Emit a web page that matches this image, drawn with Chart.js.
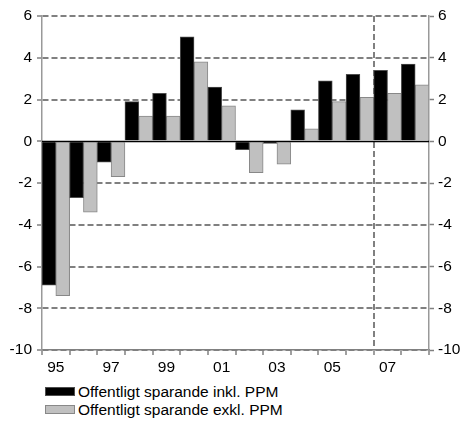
<!DOCTYPE html>
<html>
<head>
<meta charset="utf-8">
<script src="https://cdn.jsdelivr.net/npm/chart.js@4/dist/chart.umd.min.js"></script>
<style>
    body { margin: 0; background: #fff; }
    #wrap { position: relative; width: 465px; height: 421px; }
    #legend { position: absolute; left: 45px; top: 383px; font-family: "Liberation Sans", Arial, sans-serif; font-size: 15.5px; color: #000; }
    .item { height: 18px; line-height: 18px; white-space: nowrap; }
    .box { display: inline-block; width: 28px; height: 7px; margin-right: 3px; vertical-align: 1px; }
</style>
</head>
<body>
<div id="wrap">
    <canvas id="chartBar" width="465" height="378"></canvas>
    <div id="legend"></div>
</div>
<script>
var years = ['95', '96', '97', '98', '99', '00', '01', '02', '03', '04', '05', '06', '07', '08'];
var inklPPM = [-6.9, -2.7, -1.0, 1.9, 2.3, 5.0, 2.6, -0.4, -0.1, 1.5, 2.9, 3.2, 3.4, 3.7];
var exklPPM = [-7.4, -3.4, -1.7, 1.2, 1.2, 3.8, 1.7, -1.5, -1.1, 0.6, 1.9, 2.1, 2.3, 2.7];
var serieNames = ['Offentligt sparande inkl. PPM', 'Offentligt sparande exkl. PPM'];
var yMin = -10, yMax = 6, yStep = 2;
var prognosIndex = 12;  // dashed line before 2007

var fontDef = { family: '"Liberation Sans", Arial, sans-serif', size: 15.5 };
var gray = '#808080';

// solid zero line drawn on top of the bars
var zeroLine = {
    id: 'zeroLine',
    afterDatasetsDraw: function(chart) {
        var ctx = chart.ctx, area = chart.chartArea;
        var y = Math.round(chart.scales.y.getPixelForValue(0)) + 0.5;
        ctx.save();
        ctx.strokeStyle = '#000';
        ctx.lineWidth = 1.5;
        ctx.beginPath();
        ctx.moveTo(area.left, y);
        ctx.lineTo(area.right, y);
        ctx.stroke();
        ctx.restore();
    }
};

var barData = {
    labels: years,
    datasets: [
        {
            label: serieNames[0],
            data: inklPPM,
            backgroundColor: '#000000',
            borderColor: '#4d4d4d',
            borderWidth: 1
        },
        {
            label: serieNames[1],
            data: exklPPM,
            backgroundColor: '#c0c0c0',
            borderColor: '#888888',
            borderWidth: 1
        }
    ]
};

var chart = new Chart(document.getElementById('chartBar'), {
    type: 'bar',
    data: barData,
    plugins: [zeroLine],
    options: {
        responsive: false,
        devicePixelRatio: 1,
        animation: false,
        categoryPercentage: 1.0,
        barPercentage: 1.0,
        layout: { padding: { top: 16, left: 0, right: 0, bottom: 0 } },
        plugins: { legend: { display: false }, tooltip: { enabled: false } },
        scales: {
            x: {
                offset: true,
                grid: {
                    offset: true,
                    drawOnChartArea: true,
                    color: function(ctx) { return ctx.index === prognosIndex ? gray : 'rgba(0,0,0,0)'; },
                    lineWidth: 2,
                    tickColor: gray,
                    tickLength: 5,
                    tickWidth: 1.5
                },
                border: { color: gray, width: 1.5, dash: [6, 3] },
                ticks: {
                    autoSkip: false,
                    maxRotation: 0,
                    padding: 3,
                    color: '#000',
                    font: fontDef,
                    callback: function(v, i) { return i % 2 === 0 ? years[i] : ''; }
                },
                afterFit: function(scale) { scale.height = 28; }
            },
            y: {
                position: 'left',
                min: yMin,
                max: yMax,
                grid: {
                    color: function(ctx) { return ctx.tick.value === 0 ? 'rgba(0,0,0,0)' : gray; },
                    lineWidth: 2,
                    tickColor: gray,
                    tickLength: 5,
                    tickWidth: 1.5
                },
                border: { color: '#999', width: 1.5, dash: [6, 3] },
                ticks: { stepSize: yStep, padding: 5, color: '#000', font: fontDef },
                afterFit: function(scale) { scale.width = 42; }
            },
            y2: {
                position: 'right',
                min: yMin,
                max: yMax,
                grid: {
                    drawOnChartArea: false,
                    tickColor: gray,
                    tickLength: 5,
                    tickWidth: 1.5
                },
                border: { color: '#999', width: 1.5 },
                ticks: { stepSize: yStep, padding: 4, color: '#000', font: fontDef },
                afterFit: function(scale) { scale.width = 36; }
            }
        }
    }
});

// legend stacked vertically below the chart
var legendHtml = '';
chart.data.datasets.forEach(function(ds) {
    legendHtml += '<div class="item"><span class="box" style="background:' + ds.backgroundColor +
        ';border:1px solid ' + ds.borderColor + '"></span>' + ds.label + '</div>';
});
document.getElementById('legend').innerHTML = legendHtml;
</script>
</body>
</html>
